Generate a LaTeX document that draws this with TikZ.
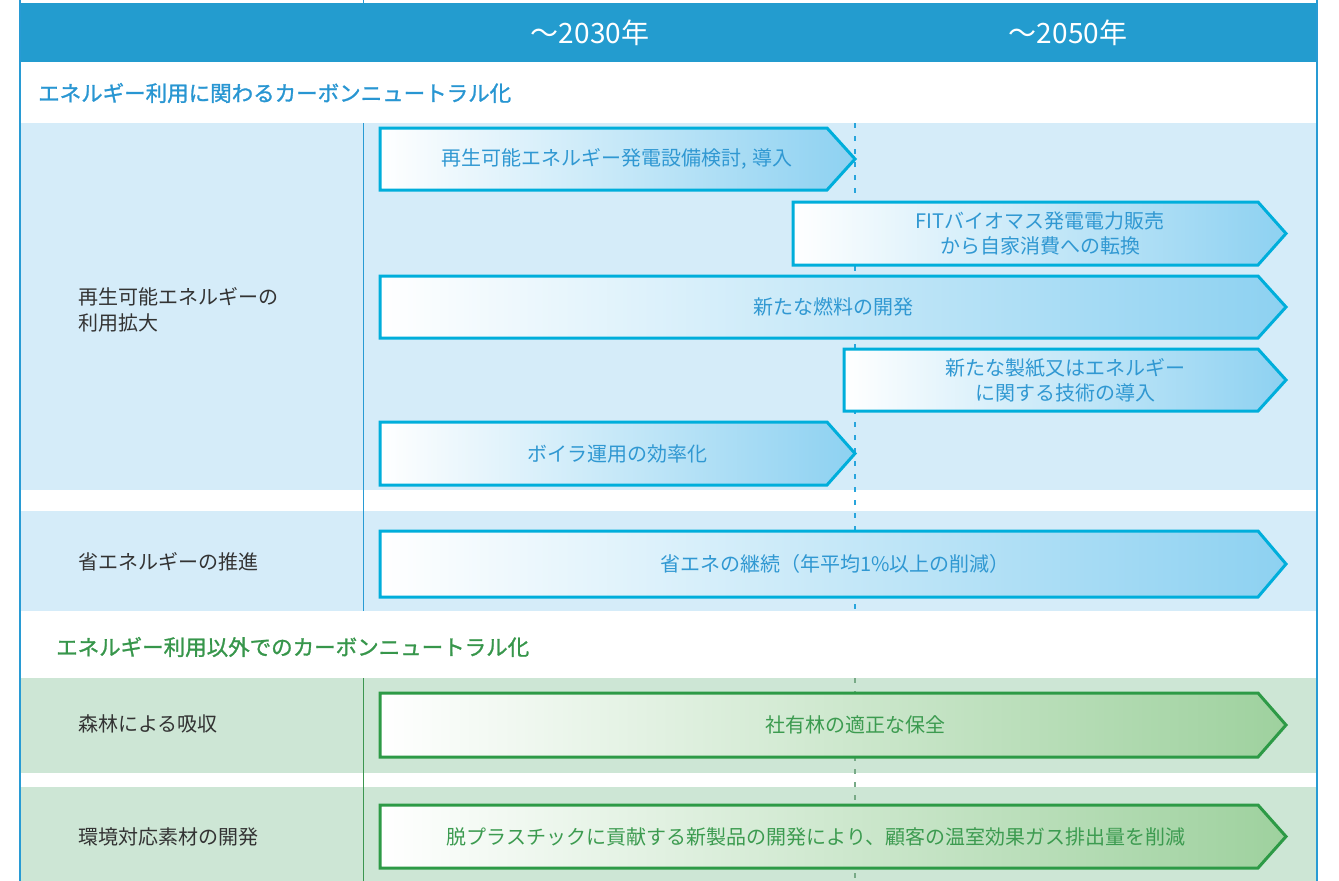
\documentclass[tikz,border=0pt]{standalone}
\usepackage{fontspec}
\setmainfont{Noto Sans CJK JP}
\newfontfamily\titlefont[FakeBold=1.2]{Noto Sans CJK JP}
\definecolor{hdr}{RGB}{35,156,207}
\definecolor{bandB}{RGB}{213,236,249}
\definecolor{bandG}{RGB}{205,230,213}
\definecolor{arrB}{RGB}{0,174,219}
\definecolor{arrBfill}{RGB}{141,209,241}
\definecolor{txtB}{RGB}{48,152,210}
\definecolor{titB}{RGB}{40,150,210}
\definecolor{arrG}{RGB}{45,154,70}
\definecolor{arrGfill}{RGB}{158,209,158}
\definecolor{txtG}{RGB}{60,155,80}
\definecolor{titG}{RGB}{55,150,75}
\definecolor{lab}{RGB}{51,51,51}
\definecolor{frameB}{RGB}{40,155,212}
\definecolor{dashB}{RGB}{40,165,220}
\definecolor{lineG}{RGB}{60,150,80}
\definecolor{dashG}{RGB}{120,170,135}
\tikzset{
  barB/.style={draw=arrB, line width=3pt, left color=white, right color=arrBfill, line join=miter},
  barB text/.style={text=txtB, font=\fontsize{20}{25}\selectfont, align=center, inner sep=0pt},
  barG/.style={draw=arrG, line width=3pt, left color=white, right color=arrGfill, line join=miter},
  barG text/.style={text=txtG, font=\fontsize{20}{25}\selectfont, align=center, inner sep=0pt},
  rowlabel/.style={text=lab, font=\fontsize{20}{26}\selectfont, align=left, anchor=west, inner sep=0pt},
  hdrtext/.style={text=white, font=\fontsize{28}{32}\selectfont, inner sep=0pt},
  titleB/.style={text=titB, font=\titlefont\fontsize{21.5}{26}\selectfont, anchor=west, inner sep=0pt},
  titleG/.style={text=titG, font=\titlefont\fontsize{21.5}{26}\selectfont, anchor=west, inner sep=0pt},
  dashline/.style={line width=1.2pt, dash pattern=on 5pt off 8pt},
}
\newcommand\tlarrow[8]{%
  \path[#6] (#2,#4) -- ({#3-28},#4) -- (#3,{(#4+#5)/2}) -- ({#3-28},#5) -- (#2,#5) -- cycle;
  \node[#6 text] (#1) at (#7,{(#4+#5)/2}) {#8};}
\begin{document}
\begin{tikzpicture}[x=1pt,y=-1pt]
\useasboundingbox (0,0) rectangle (1339,881);
\fill[white] (0,0) rectangle (1339,881);
% bands
\fill[bandB] (19,123) rectangle (1317,490);
\fill[bandB] (19,511) rectangle (1317,611);
\fill[bandG] (19,678) rectangle (1317,773);
\fill[bandG] (19,787) rectangle (1317,881);
% column separator
\draw[frameB, line width=1pt] (363,0) -- (363,3);
\draw[frameB, line width=1pt] (363,123) -- (363,611);
\draw[lineG, line width=1pt] (363,678) -- (363,881);
% 2030 marker
\draw[dashB, dashline] (855,123) -- (855,611);
\draw[dashG, dashline] (855,678) -- (855,881);
% header
\fill[hdr] (19,3) rectangle (1317,62);
\node[hdrtext] (h1) at (590,33) {～2030年};
\node[hdrtext] (h2) at (1068,33) {～2050年};
% outer frame
\draw[frameB, line width=2pt] (19.5,0) -- (19.5,881);
\draw[frameB, line width=2pt] (1317,0) -- (1317,881);
% section titles
\node[titleB] (t1) at (38,93) {エネルギー利用に関わるカーボンニュートラル化};
\node[titleG] (t2) at (56,647) {エネルギー利用以外でのカーボンニュートラル化};
% row labels
\node[rowlabel] (l1) at (78,310) {再生可能エネルギーの\\利用拡大};
\node[rowlabel] (l2) at (78,562) {省エネルギーの推進};
\node[rowlabel] (l3) at (78,724) {森林による吸収};
\node[rowlabel] (l4) at (78,837) {環境対応素材の開発};
% arrows
\tlarrow{a1}{380}{855}{128}{190}{barB}{617}{再生可能エネルギー発電設備検討, 導入}
\tlarrow{a2}{793}{1286}{202}{265}{barB}{1040}{FITバイオマス発電電力販売\\から自家消費への転換}
\tlarrow{a3}{380}{1286}{276}{338}{barB}{833}{新たな燃料の開発}
\tlarrow{a4}{844}{1286}{349}{411}{barB}{1065}{新たな製紙又はエネルギー\\に関する技術の導入}
\tlarrow{a5}{380}{855}{422}{485}{barB}{617}{ボイラ運用の効率化}
\tlarrow{a6}{380}{1286}{531}{597}{barB}{835}{省エネの継続（年平均1\%以上の削減）}
\tlarrow{a7}{380}{1286}{693}{757}{barG}{855}{社有林の適正な保全}
\tlarrow{a8}{380}{1286}{805}{868}{barG}{816}{脱プラスチックに貢献する新製品の開発により、顧客の温室効果ガス排出量を削減}
\end{tikzpicture}
\end{document}
